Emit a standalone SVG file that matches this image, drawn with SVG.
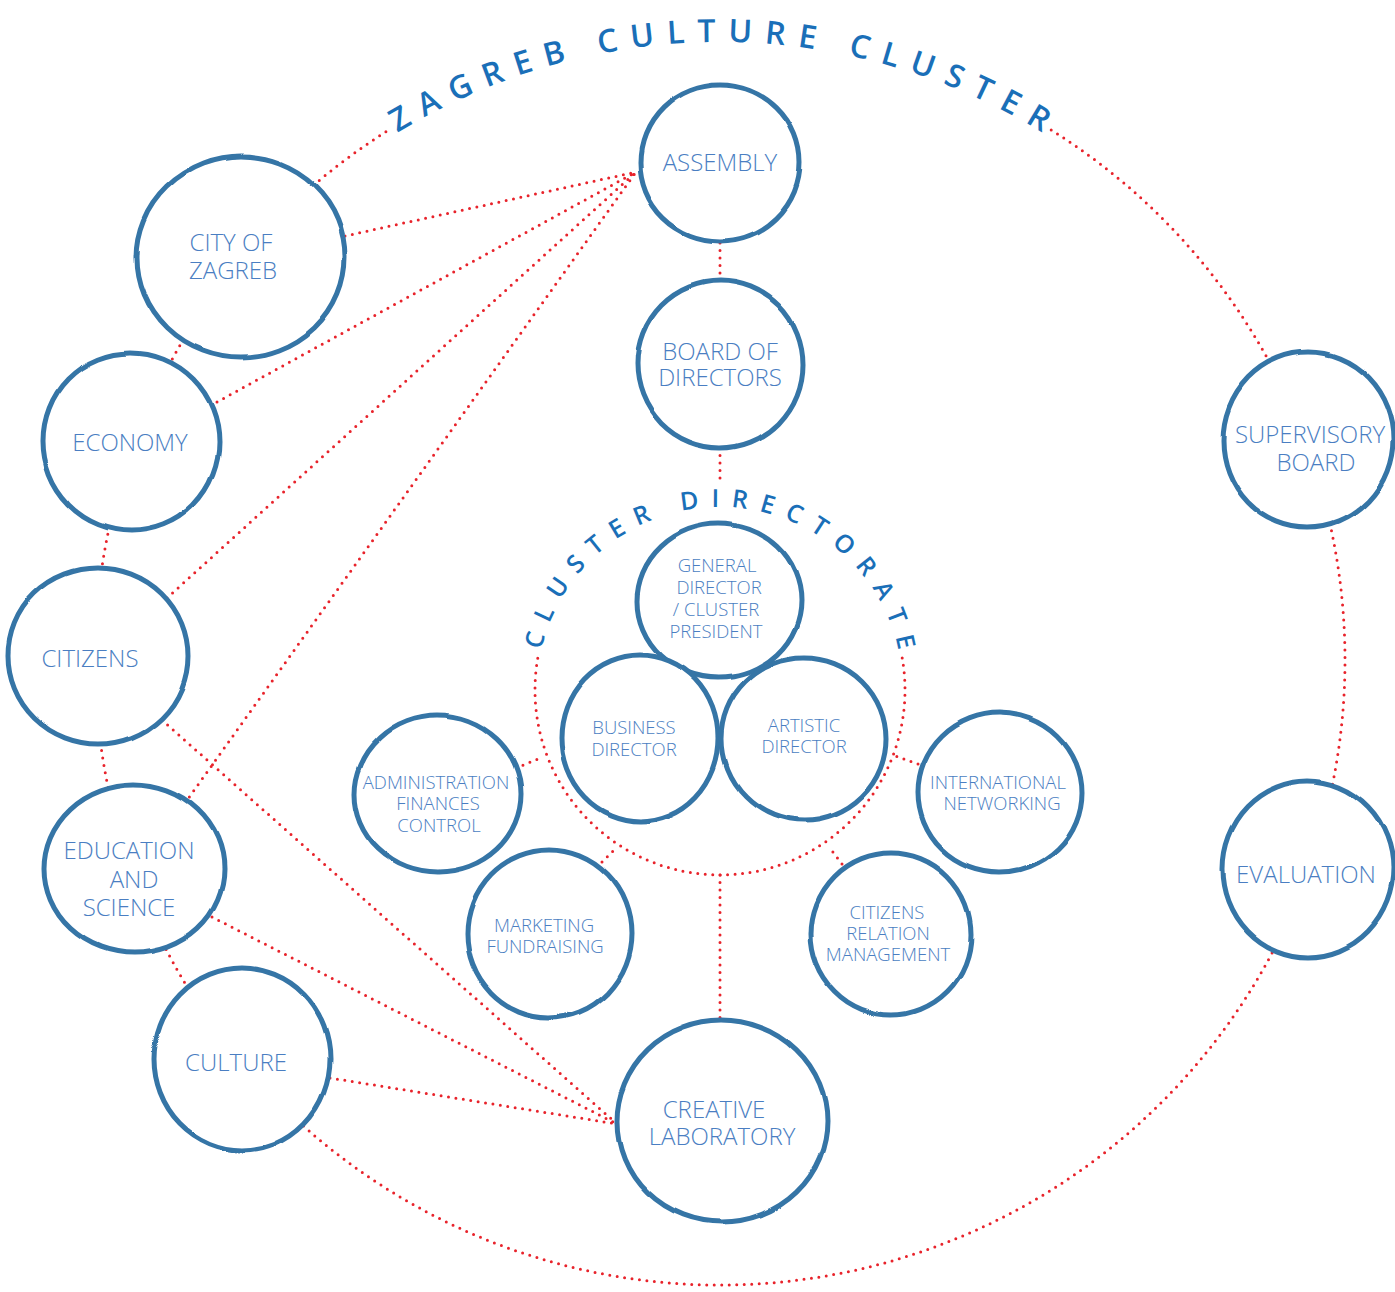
<svg xmlns="http://www.w3.org/2000/svg" width="1395" height="1292" viewBox="0 0 1395 1292">
<style>
.dot{fill:none;stroke:#e8232b;stroke-width:3;stroke-dasharray:0 7.5;stroke-linecap:round}
.node ellipse{fill:#fff;stroke:#3574a6;stroke-width:5;filter:url(#rough)}
.t{font-family:"Open Sans","Liberation Sans",sans-serif;font-weight:300;fill:#4a7ec2;text-anchor:middle}
.l{font-size:24px}
.s{font-size:18.5px}
.title{font-family:"Open Sans","Liberation Sans",sans-serif;font-weight:600;fill:#1a6fb8;text-anchor:middle}
</style>
<defs>
<filter id="rough" x="-10%" y="-10%" width="120%" height="120%">
<feTurbulence type="fractalNoise" baseFrequency="0.012" numOctaves="1" seed="3" result="n"/>
<feDisplacementMap in="SourceGraphic" in2="n" scale="5" xChannelSelector="R" yChannelSelector="G"/>
</filter>
<path id="outerArc" d="M 322.7 186.6 A 618 618 0 0 1 1117.3 186.6"/>
<path id="innerArc" d="M 537 690 A 183 183 0 0 1 903 690"/>
</defs>
<rect width="1395" height="1292" fill="#fff"/>
<g id="connectors">
<path class="dot" d="M 1051.2 130 A 625 625 0 1 1 388.8 130"/>
<path class="dot" d="M 902.2 657.9 A 185 185 0 1 1 537.8 657.9"/>
<line class="dot" x1="345" y1="236" x2="636" y2="172"/>
<line class="dot" x1="217" y1="402" x2="636" y2="172"/>
<line class="dot" x1="167" y1="598" x2="636" y2="172"/>
<line class="dot" x1="185" y1="803" x2="636" y2="172"/>
<line class="dot" x1="162" y1="720" x2="617" y2="1124"/>
<line class="dot" x1="212" y1="917" x2="617" y2="1124"/>
<line class="dot" x1="330" y1="1078" x2="617" y2="1124"/>
<line class="dot" x1="720" y1="243" x2="720" y2="280"/>
<line class="dot" x1="720" y1="448" x2="720" y2="485"/>
<line class="dot" x1="720" y1="875" x2="720" y2="1020"/>
<line class="dot" x1="516" y1="768" x2="543" y2="757"/>
<line class="dot" x1="602" y1="862" x2="615" y2="849"/>
<line class="dot" x1="918" y1="764" x2="893" y2="755"/>
<line class="dot" x1="842" y1="864" x2="829" y2="847"/>
</g>
<g id="titles">
<text class="title" font-size="32" letter-spacing="12.5" dx="6"><textPath href="#outerArc" startOffset="50%">ZAGREB CULTURE CLUSTER</textPath></text>
<text class="title" font-size="25" letter-spacing="12" dx="6"><textPath href="#innerArc" startOffset="50%">CLUSTER DIRECTORATE</textPath></text>
</g>
<g id="n-assembly" class="node"><ellipse cx="720" cy="163" rx="80" ry="78"/><text class="t l" x="720" y="171">ASSEMBLY</text></g>
<g id="n-board" class="node"><ellipse cx="720" cy="364" rx="83" ry="84"/><text class="t l" x="720" y="360">BOARD OF</text><text class="t l" x="720" y="386">DIRECTORS</text></g>
<g id="n-supervisory" class="node"><ellipse cx="1308" cy="440" rx="85" ry="88"/><text class="t l" x="1310" y="443">SUPERVISORY</text><text class="t l" x="1316" y="471">BOARD</text></g>
<g id="n-evaluation" class="node"><ellipse cx="1308" cy="869" rx="85" ry="88"/><text class="t l" x="1306" y="883">EVALUATION</text></g>
<g id="n-city" class="node"><ellipse cx="241" cy="257" rx="104" ry="100"/><text class="t l" x="231" y="251">CITY OF</text><text class="t l" x="233" y="279">ZAGREB</text></g>
<g id="n-economy" class="node"><ellipse cx="131" cy="442" rx="88" ry="89"/><text class="t l" x="130" y="451">ECONOMY</text></g>
<g id="n-citizens" class="node"><ellipse cx="98" cy="656" rx="90" ry="88"/><text class="t l" x="90" y="667">CITIZENS</text></g>
<g id="n-education" class="node"><ellipse cx="134" cy="869" rx="90" ry="84"/><text class="t l" x="129" y="859">EDUCATION</text><text class="t l" x="134" y="888">AND</text><text class="t l" x="129" y="916">SCIENCE</text></g>
<g id="n-culture" class="node"><ellipse cx="242" cy="1059" rx="88" ry="91"/><text class="t l" x="236" y="1071">CULTURE</text></g>
<g id="n-creative" class="node"><ellipse cx="722" cy="1121" rx="105" ry="101"/><text class="t l" x="714" y="1118">CREATIVE</text><text class="t l" x="722" y="1145">LABORATORY</text></g>
<g id="n-general" class="node"><ellipse cx="719" cy="601" rx="82" ry="77"/><text class="t s" x="717" y="572">GENERAL</text><text class="t s" x="719" y="594">DIRECTOR</text><text class="t s" x="716" y="616">/ CLUSTER</text><text class="t s" x="716" y="638">PRESIDENT</text></g>
<g id="n-business" class="node"><ellipse cx="640" cy="738" rx="79" ry="83"/><text class="t s" x="634" y="734">BUSINESS</text><text class="t s" x="634" y="756">DIRECTOR</text></g>
<g id="n-artistic" class="node"><ellipse cx="804" cy="739" rx="82" ry="81"/><text class="t s" x="804" y="732">ARTISTIC</text><text class="t s" x="804" y="753">DIRECTOR</text></g>
<g id="n-admin" class="node"><ellipse cx="438" cy="794" rx="83" ry="78"/><text class="t s" x="436" y="789">ADMINISTRATION</text><text class="t s" x="438" y="810">FINANCES</text><text class="t s" x="439" y="832">CONTROL</text></g>
<g id="n-marketing" class="node"><ellipse cx="549" cy="934" rx="82" ry="84"/><text class="t s" x="544" y="932">MARKETING</text><text class="t s" x="545" y="953">FUNDRAISING</text></g>
<g id="n-international" class="node"><ellipse cx="1000" cy="793" rx="82" ry="80"/><text class="t s" x="998" y="789">INTERNATIONAL</text><text class="t s" x="1002" y="810">NETWORKING</text></g>
<g id="n-crm" class="node"><ellipse cx="891" cy="934" rx="80" ry="81"/><text class="t s" x="887" y="919">CITIZENS</text><text class="t s" x="888" y="940">RELATION</text><text class="t s" x="888" y="961">MANAGEMENT</text></g>
</svg>
